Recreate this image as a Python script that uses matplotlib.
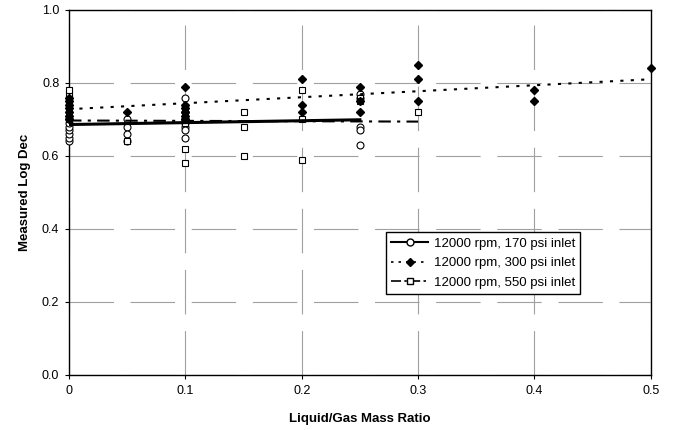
import matplotlib
matplotlib.use("Agg")
import matplotlib.pyplot as plt
from matplotlib.lines import Line2D

plt.rcParams["font.family"] = ["Liberation Sans", "DejaVu Sans"]

# 12000 rpm, 170 psi inlet (open circles)
x_170 = [0, 0, 0, 0, 0, 0, 0,
         0.05, 0.05, 0.05, 0.05,
         0.1, 0.1, 0.1, 0.1, 0.1, 0.1, 0.1,
         0.25, 0.25, 0.25, 0.25, 0.25]
y_170 = [0.64, 0.65, 0.66, 0.67, 0.68, 0.69, 0.70,
         0.70, 0.68, 0.66, 0.64,
         0.76, 0.72, 0.70, 0.69, 0.68, 0.67, 0.65,
         0.77, 0.76, 0.68, 0.67, 0.63]

# 12000 rpm, 300 psi inlet (filled diamonds)
x_300 = [0, 0, 0, 0, 0, 0, 0,
         0.05,
         0.1, 0.1, 0.1, 0.1, 0.1, 0.1,
         0.2, 0.2, 0.2,
         0.25, 0.25, 0.25,
         0.3, 0.3, 0.3,
         0.4, 0.4,
         0.5]
y_300 = [0.70, 0.71, 0.72, 0.73, 0.74, 0.75, 0.76,
         0.72,
         0.79, 0.74, 0.73, 0.72, 0.71, 0.70,
         0.81, 0.74, 0.72,
         0.79, 0.75, 0.72,
         0.85, 0.81, 0.75,
         0.78, 0.75,
         0.84]

# 12000 rpm, 550 psi inlet (open squares)
x_550 = [0, 0, 0, 0, 0, 0, 0,
         0.05,
         0.1, 0.1, 0.1, 0.1,
         0.15, 0.15, 0.15,
         0.2, 0.2, 0.2,
         0.25, 0.25,
         0.3]
y_550 = [0.70, 0.72, 0.74, 0.75, 0.76, 0.77, 0.78,
         0.64,
         0.70, 0.69, 0.62, 0.58,
         0.72, 0.68, 0.60,
         0.78, 0.70, 0.59,
         0.76, 0.75,
         0.72]

# linear trend lines (end points)
trend_170_x = [0, 0.25]
trend_170_y = [0.686, 0.699]
trend_300_x = [0, 0.5]
trend_300_y = [0.728, 0.810]
trend_550_x = [0, 0.3]
trend_550_y = [0.697, 0.694]

labels = ["12000 rpm, 170 psi inlet",
          "12000 rpm, 300 psi inlet",
          "12000 rpm, 550 psi inlet"]

fig = plt.figure(figsize=(6.73, 4.30), dpi=100)
ax = fig.add_axes([0.1025, 0.128, 0.8645, 0.849])

ms = 5
ax.plot(x_170, y_170, linestyle="none", marker="o", ms=ms,
        mfc="white", mec="black", mew=0.8, zorder=3, clip_on=False)
ax.plot(x_550, y_550, linestyle="none", marker="s", ms=ms,
        mfc="white", mec="black", mew=0.8, zorder=3, clip_on=False)
ax.plot(x_300, y_300, linestyle="none", marker="D", ms=4.5,
        mfc="black", mec="black", zorder=4, clip_on=False)

dash_dot = (0, (6, 3, 1.5, 3))
ax.plot(trend_170_x, trend_170_y, color="black", lw=2.2, zorder=5)
ax.plot(trend_300_x, trend_300_y, color="black", lw=1.5,
        linestyle=(0, (1.5, 3.5)), zorder=5)
ax.plot(trend_550_x, trend_550_y, color="black", lw=1.5,
        linestyle=dash_dot, zorder=5)

ax.set_xlim(0, 0.5)
ax.set_ylim(0, 1.0)
ax.set_xticks([0, 0.1, 0.2, 0.3, 0.4, 0.5])
ax.set_xticklabels(["0", "0.1", "0.2", "0.3", "0.4", "0.5"])
ax.set_yticks([0, 0.2, 0.4, 0.6, 0.8, 1.0])
ax.set_yticklabels(["0.0", "0.2", "0.4", "0.6", "0.8", "1.0"])
ax.tick_params(axis="both", labelsize=9, direction="out", length=3,
               width=0.8, pad=4)
ax.grid(True, color="#a0a0a0", lw=0.8, linestyle=(0, (40, 15)))
ax.set_axisbelow(True)
for s in ax.spines.values():
    s.set_linewidth(1.0)
    s.set_color("black")

ax.set_xlabel("Liquid/Gas Mass Ratio", fontsize=9.5, fontweight="bold",
              labelpad=12)
ax.set_ylabel("Measured Log Dec", fontsize=9.5, fontweight="bold",
              labelpad=8)

handles = [
    Line2D([], [], color="black", lw=1.5, marker="o", ms=ms,
           mfc="white", mec="black"),
    Line2D([], [], color="black", lw=1.2, linestyle=(0, (1.5, 3)),
           marker="D", ms=4.5, mfc="black", mec="black"),
    Line2D([], [], color="black", lw=1.2, linestyle=(0, (6, 2, 1.5, 2)),
           marker="s", ms=ms, mfc="white", mec="black"),
]
leg = ax.legend(handles, labels, loc="lower left",
                bbox_to_anchor=(0.545, 0.222), fontsize=9.5,
                fancybox=False, edgecolor="black", framealpha=1,
                borderaxespad=0, handlelength=2.8, handletextpad=0.4,
                labelspacing=0.55, borderpad=0.4)
leg.get_frame().set_linewidth(1.0)

fig.savefig("out.png", dpi=100)
